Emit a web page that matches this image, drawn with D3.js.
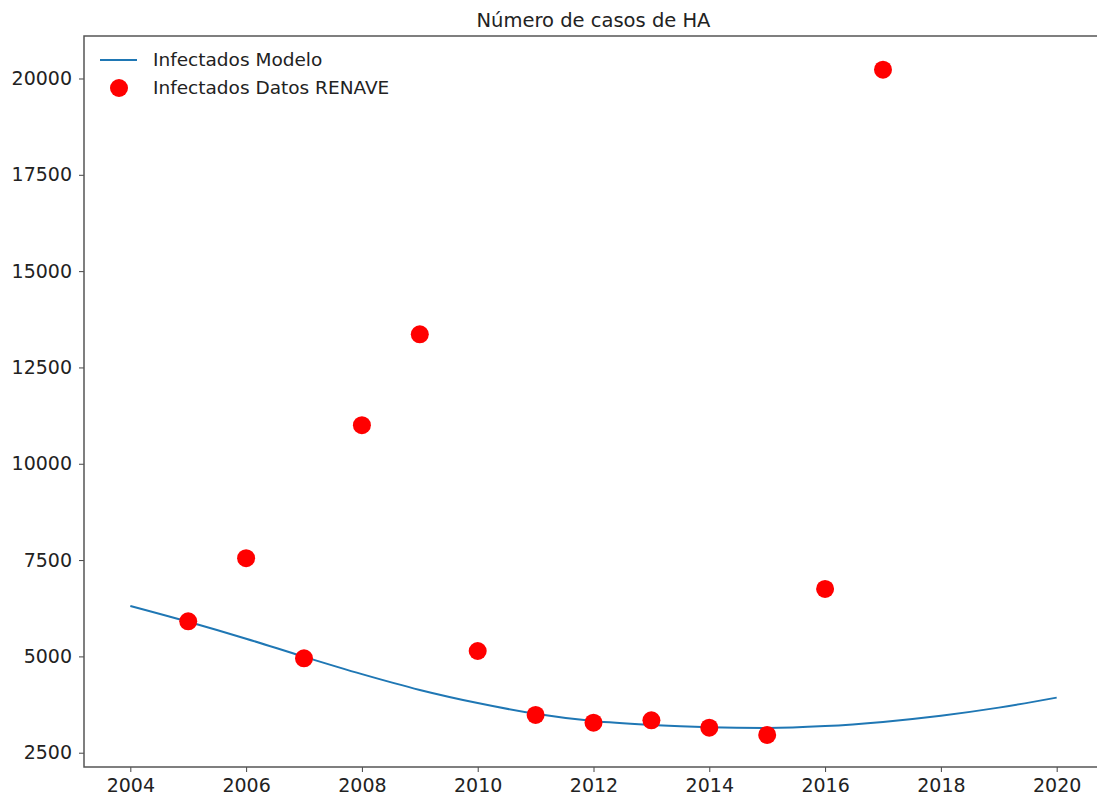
<!DOCTYPE html>
<html>
<head>
<meta charset="utf-8">
<script src="https://cdn.jsdelivr.net/npm/d3@7"></script>
<style>
  body { margin: 0; background: #fff; overflow: hidden; }
  text { font-family: "DejaVu Sans", sans-serif; fill: #222; }
</style>
</head>
<body>
<script>
// model curve (yearly values)
var modelYears = [2004, 2005, 2006, 2007, 2008, 2009, 2010, 2011, 2012, 2013, 2014, 2015, 2016, 2017, 2018, 2019, 2020];
var modelValues = [6310, 5900, 5460, 4990, 4540, 4130, 3790, 3510, 3320, 3220, 3160, 3140, 3190, 3300, 3460, 3670, 3930];

// RENAVE data points
var dataYears = [2005, 2006, 2007, 2008, 2009, 2010, 2011, 2012, 2013, 2014, 2015, 2016, 2017];
var dataValues = [5910, 7550, 4950, 11000, 13360, 5140, 3480, 3280, 3340, 3150, 2960, 6750, 20230];

var xTicks = [2004, 2006, 2008, 2010, 2012, 2014, 2016, 2018, 2020];
var yTicks = [2500, 5000, 7500, 10000, 12500, 15000, 17500, 20000];

var title = "Número de casos de HA";
var legendLabels = ["Infectados Modelo", "Infectados Datos RENAVE"];

var W = 1097, H = 800;
// plot area edges (the right edge is cropped off in the reference)
var plotL = 84, plotR = 1103, plotT = 36, plotB = 767;

var svg = d3.select("body").append("svg")
    .attr("width", W)
    .attr("height", H);

var x = d3.scaleLinear().domain([2003.2, 2020.8]).range([plotL, plotR]);
var y = d3.scaleLinear().domain([2129, 21103]).range([plotB, plotT]);

// axes
svg.append("g")
    .attr("transform", "translate(0," + plotB + ")")
    .call(d3.axisBottom(x).tickValues(xTicks).tickFormat(d3.format("d")).tickSize(5).tickPadding(7))
    .call(function(g) {
        g.select(".domain").remove();
        g.selectAll("line").attr("stroke", "#444");
        g.selectAll("text").style("font-size", "19px").attr("fill", "#222");
    });

svg.append("g")
    .attr("transform", "translate(" + plotL + ",0)")
    .call(d3.axisLeft(y).tickValues(yTicks).tickFormat(d3.format("d")).tickSize(5).tickPadding(7))
    .call(function(g) {
        g.select(".domain").remove();
        g.selectAll("line").attr("stroke", "#444");
        g.selectAll("text").style("font-size", "19px").attr("fill", "#222");
    });

// frame
svg.append("rect")
    .attr("x", plotL)
    .attr("y", plotT)
    .attr("width", plotR - plotL)
    .attr("height", plotB - plotT)
    .attr("fill", "none")
    .attr("stroke", "#555")
    .attr("stroke-width", 1.5);

// model line
var line = d3.line()
    .x(function(d, i) { return x(modelYears[i]); })
    .y(function(d) { return y(d); })
    .curve(d3.curveMonotoneX);

svg.append("path")
    .datum(modelValues)
    .attr("fill", "none")
    .attr("stroke", "#1f77b4")
    .attr("stroke-width", 2)
    .attr("d", line);

// data points
svg.selectAll(".dot")
    .data(dataValues)
    .enter()
    .append("circle")
    .attr("class", "dot")
    .attr("cx", function(d, i) { return x(dataYears[i]); })
    .attr("cy", function(d) { return y(d); })
    .attr("r", 9)
    .attr("fill", "#ff0000");

// title
svg.append("text")
    .attr("x", (plotL + plotR) / 2)
    .attr("y", 27)
    .attr("text-anchor", "middle")
    .style("font-size", "19.5px")
    .text(title);

// legend
var lg = svg.append("g");
lg.append("line")
    .attr("x1", 100).attr("x2", 137)
    .attr("y1", 60).attr("y2", 60)
    .attr("stroke", "#1f77b4")
    .attr("stroke-width", 2);
lg.append("circle")
    .attr("cx", 119).attr("cy", 88)
    .attr("r", 9)
    .attr("fill", "#ff0000");
lg.selectAll("text")
    .data(legendLabels)
    .enter()
    .append("text")
    .attr("x", 153)
    .attr("y", function(d, i) { return 60 + i * 28; })
    .attr("dy", "0.35em")
    .style("font-size", "18.5px")
    .text(function(d) { return d; });
</script>
</body>
</html>
